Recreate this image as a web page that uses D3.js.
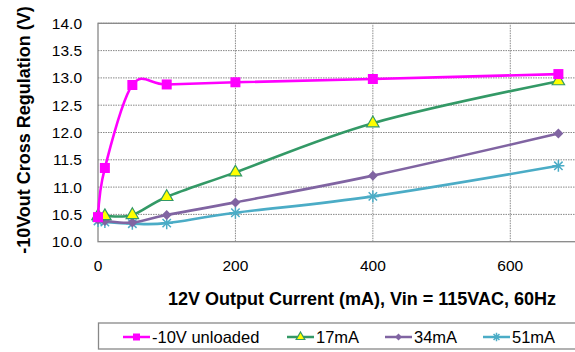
<!DOCTYPE html>
<html>
<head>
<meta charset="utf-8">
<script src="https://cdn.jsdelivr.net/npm/d3@7"></script>
<style>
  body { margin: 0; background: #fff; }
  svg { display: block; font-family: "Liberation Sans", Arial, sans-serif; }
</style>
</head>
<body>
<div id="chart"></div>
<script>
// values
var current = [0, 10, 50, 100, 200, 400, 670];
var unloaded = [10.45, 11.35, 12.87, 12.88, 12.92, 12.98, 13.07];
var load17 = [10.47, 10.47, 10.49, 10.82, 11.27, 12.17, 12.94];
var load34 = [10.40, 10.38, 10.35, 10.49, 10.72, 11.21, 11.98];
var load51 = [10.38, 10.36, 10.33, 10.34, 10.53, 10.83, 11.39];
var xTicks = [0, 200, 400, 600];
var yTicks = [10, 10.5, 11, 11.5, 12, 12.5, 13, 13.5, 14];
var seriesNames = ["-10V unloaded", "17mA", "34mA", "51mA"];

var width = 575, height = 352;
var svg = d3.select("#chart").append("svg")
  .attr("width", width)
  .attr("height", height);

var x = d3.scaleLinear().domain([0, 700]).range([98, 579]);
var y = d3.scaleLinear().domain([10, 14]).range([241.7, 23.3]);

// grid
svg.append("g").selectAll("line.h")
  .data(yTicks.slice(1))
  .enter().append("line")
  .attr("x1", x(0)).attr("x2", x(700))
  .attr("y1", function(d) { return y(d); })
  .attr("y2", function(d) { return y(d); })
  .attr("stroke", "#888").attr("stroke-width", 1)
  .attr("stroke-dasharray", "1.5,1");
svg.append("g").selectAll("line.v")
  .data(xTicks.slice(1))
  .enter().append("line")
  .attr("y1", y(10)).attr("y2", y(14))
  .attr("x1", function(d) { return x(d); })
  .attr("x2", function(d) { return x(d); })
  .attr("stroke", "#888").attr("stroke-width", 1)
  .attr("stroke-dasharray", "1.5,1");

// plot frame
svg.append("rect")
  .attr("x", x(0)).attr("y", y(14))
  .attr("width", x(700) - x(0)).attr("height", y(10) - y(14))
  .attr("fill", "none").attr("stroke", "#888").attr("stroke-width", 1.3);

// axes labels
svg.append("g").selectAll("text")
  .data(yTicks)
  .enter().append("text")
  .attr("x", 82)
  .attr("y", function(d) { return y(d) + 5.5; })
  .attr("text-anchor", "end")
  .attr("font-size", 15.5)
  .text(function(d) { return d3.format(".1f")(d); });

svg.append("g").selectAll("text")
  .data(xTicks)
  .enter().append("text")
  .attr("x", function(d) { return x(d); })
  .attr("y", 271)
  .attr("text-anchor", "middle")
  .attr("font-size", 15.5)
  .text(function(d) { return d; });

svg.append("text")
  .attr("transform", "translate(30,130) rotate(-90)")
  .attr("text-anchor", "middle")
  .attr("font-size", 18)
  .attr("font-weight", "bold")
  .text("-10Vout Cross Regulation (V)");

svg.append("text")
  .attr("x", 362).attr("y", 305)
  .attr("text-anchor", "middle")
  .attr("font-size", 18)
  .attr("font-weight", "bold")
  .text("12V Output Current (mA), Vin = 115VAC, 60Hz");

var series = [
  { name: seriesNames[0], values: unloaded, color: "#ff00ff", marker: "square", fill: "#ff00ff" },
  { name: seriesNames[1], values: load17, color: "#339966", marker: "triangle", fill: "#ffff00" },
  { name: seriesNames[2], values: load34, color: "#8064a2", marker: "diamond", fill: "#8064a2" },
  { name: seriesNames[3], values: load51, color: "#4bacc6", marker: "star", fill: "#4bacc6" }
];

var line = d3.line()
  .x(function(d, i) { return x(current[i]); })
  .y(function(d) { return y(d); })
  .curve(d3.curveCardinal.tension(0));

function drawMarker(g, type, color, fill, size) {
  if (type === "square") {
    g.append("rect").attr("x", -size / 2).attr("y", -size / 2)
      .attr("width", size).attr("height", size).attr("fill", fill);
  } else if (type === "triangle") {
    g.append("path").attr("d", d3.symbol().type(d3.symbolTriangle).size(size * size * 0.55)())
      .attr("fill", fill).attr("stroke", color).attr("stroke-width", 1.2);
  } else if (type === "diamond") {
    var s = size / 2;
    g.append("path").attr("d", "M0," + (-s) + "L" + s + ",0L0," + s + "L" + (-s) + ",0Z")
      .attr("fill", fill);
  } else {
    var r = size / 2;
    g.append("path")
      .attr("d", "M" + (-r) + ",0L" + r + ",0M0," + (-r) + "L0," + r +
        "M" + (-r * 0.7) + "," + (-r * 0.7) + "L" + (r * 0.7) + "," + (r * 0.7) +
        "M" + (-r * 0.7) + "," + (r * 0.7) + "L" + (r * 0.7) + "," + (-r * 0.7))
      .attr("stroke", color).attr("stroke-width", 1.5).attr("fill", "none");
  }
}

var sizes = { square: 10, triangle: 11, diamond: 10, star: 12 };

// draw from last to first so magenta sits on top
series.slice().reverse().forEach(function(s) {
  svg.append("path")
    .attr("d", line(s.values))
    .attr("fill", "none")
    .attr("stroke", s.color)
    .attr("stroke-width", 2.6);
  s.values.forEach(function(v, i) {
    var g = svg.append("g").attr("transform", "translate(" + x(current[i]) + "," + y(v) + ")");
    drawMarker(g, s.marker, s.color, s.fill, sizes[s.marker]);
  });
});

// legend
svg.append("rect")
  .attr("x", 98.5).attr("y", 323)
  .attr("width", 480).attr("height", 26)
  .attr("fill", "#fff").attr("stroke", "#888").attr("stroke-width", 1.3);

var legendX = [123, 287, 385, 483];
series.forEach(function(s, i) {
  var g = svg.append("g").attr("transform", "translate(" + legendX[i] + ",337)");
  g.append("line").attr("x1", 0).attr("x2", 27).attr("stroke", s.color).attr("stroke-width", 2.5);
  var m = g.append("g").attr("transform", "translate(13.5,0)");
  drawMarker(m, s.marker, s.color, s.fill, sizes[s.marker] * 0.7);
  g.append("text").attr("x", 29).attr("y", 6)
    .attr("font-size", 16.5).text(s.name);
});
</script>
</body>
</html>
